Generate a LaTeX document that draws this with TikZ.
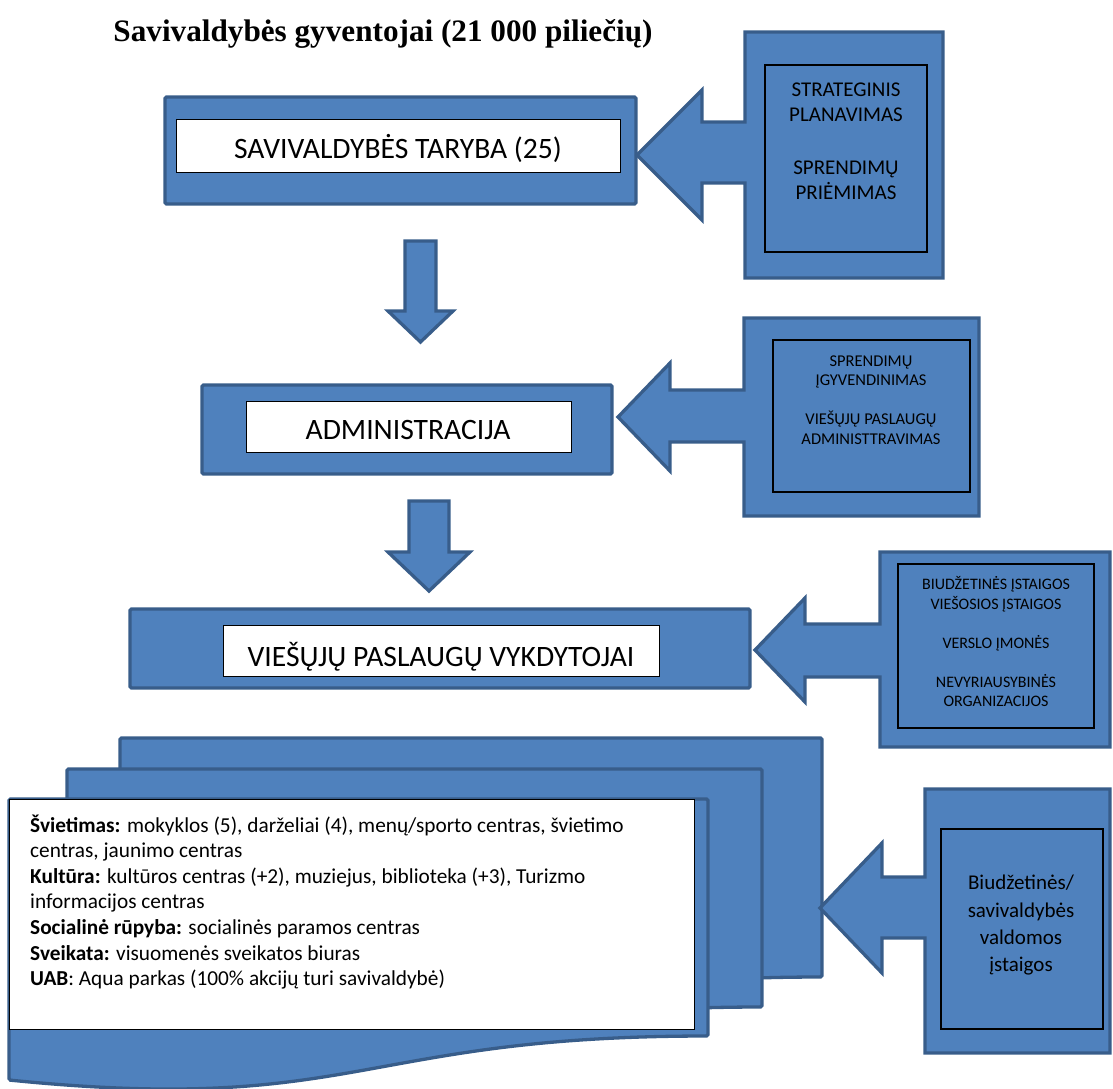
\documentclass[tikz,border=0pt]{standalone}
\usepackage{fontspec}
\setmainfont{Carlito}
\newfontfamily\titlefont{Liberation Serif}
\definecolor{bfill}{HTML}{4F81BD}
\definecolor{bline}{HTML}{385D8A}
\begin{document}
\begin{tikzpicture}[x=1pt,y=-1pt,
  blueshape/.style={fill=bfill,draw=bline,line width=3.3pt,line join=miter},
  mainbox/.style={blueshape,rounded corners=1.5pt},
  whitebox/.style={fill=white,draw=black,line width=1pt},
  innerbox/.style={draw=black,line width=1.1pt},
  bigtext/.style={font=\fontsize{29.6}{35}\selectfont,inner sep=0pt,anchor=base},
  txtA/.style={font=\fontsize{21}{25}\selectfont,inner sep=0pt,align=center},
  txtB/.style={font=\fontsize{16.5}{19.5}\selectfont,inner sep=0pt,align=center},
  txtC/.style={font=\fontsize{16}{19.6}\selectfont,inner sep=0pt,align=center},
  txtD/.style={font=\fontsize{21}{27.3}\selectfont,inner sep=0pt,align=center},
  txtE/.style={font=\fontsize{21.3}{25.6}\selectfont,inner sep=0pt,align=left,anchor=west}
]
\useasboundingbox (0,0) rectangle (1113,1088);

% title
\node[font=\titlefont\bfseries\fontsize{31.2}{37}\selectfont,anchor=base,inner sep=0pt] (title) at (383,41) {Savivaldybės gyventojai (21 000 piliečių)};

% ---- level 1
\draw[mainbox] (165,97) rectangle (636,204);
\draw[whitebox] (176,119) rectangle (620,172);
\node[bigtext] (taryba) at (398,158) {SAVIVALDYBĖS TARYBA (25)};

\draw[blueshape] (745,32) -- (943,32) -- (943,278) -- (745,278) -- (745,183) -- (702,183) -- (702,220) -- (637,155) -- (702,90) -- (702,122) -- (745,122) -- cycle;
\draw[innerbox] (765,65) rectangle (927,252);
\node[txtA] (strat) at (846,143.3) {\strut STRATEGINIS\\PLANAVIMAS\\[28pt]SPRENDIMŲ\\PRIĖMIMAS\strut};

% down arrow 1
\draw[blueshape] (405,241) -- (436,241) -- (436,311) -- (453,311) -- (420.5,342) -- (388,311) -- (405,311) -- cycle;

% ---- level 2
\draw[mainbox] (202,385) rectangle (612,474);
\draw[whitebox] (246,401) rectangle (571,452);
\node[bigtext] (admin) at (408,439) {ADMINISTRACIJA};

\draw[blueshape] (744,318) -- (979,318) -- (979,516) -- (744,516) -- (744,442) -- (670,442) -- (670,471) -- (618,417) -- (670,363) -- (670,390) -- (744,390) -- cycle;
\draw[innerbox] (773,340) rectangle (970,492);
\node[txtB] (igyv) at (871,401.1) {\strut SPRENDIMŲ\\ĮGYVENDINIMAS\\[19.5pt]VIEŠŲJŲ PASLAUGŲ\\ADMINISTTRAVIMAS\strut};

% down arrow 2
\draw[blueshape] (409,501) -- (449,501) -- (449,552) -- (470,552) -- (429,591) -- (388,552) -- (409,552) -- cycle;

% ---- level 3
\draw[mainbox] (130,609) rectangle (750,688);
\draw[whitebox] (223,625) rectangle (659,676);
\node[bigtext] (vykd) at (441,666) {VIEŠŲJŲ PASLAUGŲ VYKDYTOJAI};

\draw[blueshape] (880,552) -- (1110,552) -- (1110,747) -- (880,747) -- (880,677) -- (805,677) -- (805,702) -- (755,650) -- (805,598) -- (805,624) -- (880,624) -- cycle;
\draw[innerbox] (898,564) rectangle (1094,728);
\node[txtC] (istaigos) at (996,644.1) {\strut BIUDŽETINĖS ĮSTAIGOS\\VIEŠOSIOS ĮSTAIGOS\\[19.4pt]VERSLO ĮMONĖS\\[19.4pt]NEVYRIAUSYBINĖS\\ORGANIZACIJOS\strut};

% ---- level 4: multidocument
\draw[blueshape,rounded corners=1.5pt] (120,738) -- (822,738) -- (822,977) .. controls (471,977) and (471,1060) .. (120,1020) -- cycle;
\draw[blueshape,rounded corners=1.5pt] (67,769) -- (762,769) -- (762,1007) .. controls (415,1007) and (415,1090) .. (67,1050) -- cycle;
\draw[blueshape,rounded corners=1.5pt] (9,799) -- (708,799) -- (708,1036) .. controls (358,1036) and (358,1115) .. (9,1080) -- cycle;
\draw[whitebox] (9,799) rectangle (694,1029);
\node[txtE] (list) at (30,903.7) {\strut\textbf{Švietimas:} mokyklos (5), darželiai (4), menų/sporto centras, švietimo\\centras, jaunimo centras\\\textbf{Kultūra:} kultūros centras (+2), muziejus, biblioteka (+3), Turizmo\\informacijos centras\\\textbf{Socialinė rūpyba:} socialinės paramos centras\\\textbf{Sveikata:} visuomenės sveikatos biuras\\\textbf{UAB}: Aqua parkas (100\% akcijų turi savivaldybė)\strut};

\draw[blueshape] (925,789) -- (1110,789) -- (1110,1053) -- (925,1053) -- (925,938) -- (882,938) -- (882,973) -- (820,908) -- (882,843) -- (882,877) -- (925,877) -- cycle;
\draw[innerbox] (941,829) rectangle (1103,1029);
\node[txtD] (biud) at (1021,925.3) {\strut Biudžetinės/\\savivaldybės\\valdomos\\įstaigos\strut};
\end{tikzpicture}
\end{document}
